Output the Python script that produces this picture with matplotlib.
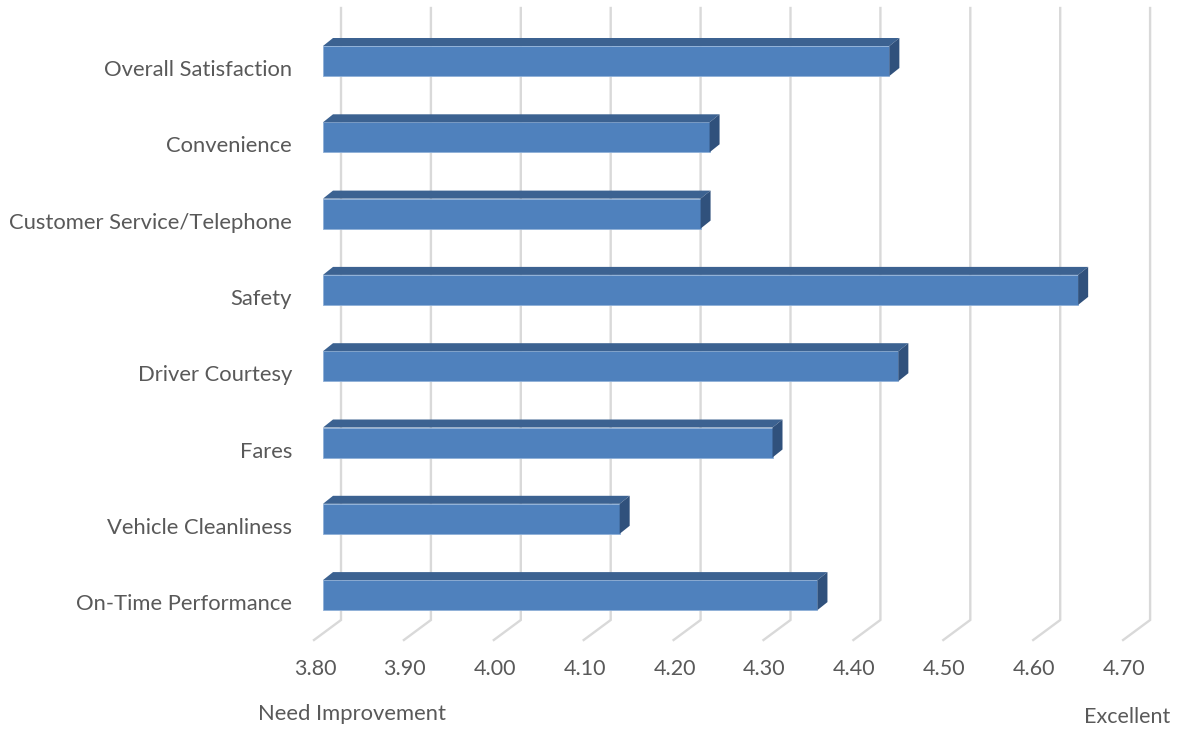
import matplotlib
matplotlib.use("Agg")
import matplotlib.pyplot as plt
from matplotlib.patches import Polygon
import numpy as np

# data (top to bottom as drawn)
categories = ["Overall Satisfaction", "Convenience", "Customer Service/Telephone",
              "Safety", "Driver Courtesy", "Fares", "Vehicle Cleanliness",
              "On-Time Performance"]
scores = [4.43, 4.23, 4.22, 4.64, 4.44, 4.30, 4.13, 4.35]
ticks = [3.80, 3.90, 4.00, 4.10, 4.20, 4.30, 4.40, 4.50, 4.60, 4.70]
base = 3.80

W, H = 1180, 729
fig = plt.figure(figsize=(W / 100, H / 100), dpi=100)
ax = fig.add_axes([0, 0, 1, 1])
ax.set_axis_off()

# pixel layout -> data units
px_per_unit = 899.0
x0_px = 323.0
row_px = 76.3
y0_px = 61.0
ax.set_xlim(base - x0_px / px_per_unit, base + (W - x0_px) / px_per_unit)
ax.set_ylim((H - y0_px) / row_px, -y0_px / row_px)

def px_x(p):
    return p / px_per_unit

def px_y(p):
    return p / row_px

text_col = "#595959"
grid_col = "#d9d9d9"
front = "#4f81bd"
top_c = "#3c6291"
side_c = "#30517c"
font = "Lato"

# back wall gridlines with floor segments
back_dx = px_x(18)
floor_back = px_y(620 - y0_px)
floor_front = px_y(640 - y0_px)
wall_top = px_y(8 - y0_px)
for t in ticks:
    xb = t + back_dx
    xf = xb - px_x(27)
    ax.plot([xb, xb, xf], [wall_top, floor_back, floor_front],
            color=grid_col, lw=1.7, solid_joinstyle="miter", zorder=1)
    ax.text(xf + px_x(1), px_y(669 - y0_px), f"{t:.2f}", ha="center", va="center",
            fontsize=15.5, color=text_col, family=font)

# bars
y = np.arange(len(categories))
h = px_y(30)
ddx, ddy = px_x(10), px_y(8)
ax.barh(y, np.array(scores) - base, left=base, height=h, color=front,
        edgecolor="#8fb0d8", linewidth=0.6, zorder=3)
for yi, v in zip(y, scores):
    yt, yb = yi - h / 2, yi + h / 2
    ax.add_patch(Polygon([(base, yt), (v, yt), (v + ddx, yt - ddy), (base + ddx, yt - ddy)],
                         closed=True, facecolor=top_c, edgecolor="none", zorder=3))
    ax.add_patch(Polygon([(v, yt), (v, yb), (v + ddx, yb - ddy), (v + ddx, yt - ddy)],
                         closed=True, facecolor=side_c, edgecolor="none", zorder=3))

for yi, name in zip(y, categories):
    ax.text(base - px_x(31), yi + px_y(9), name, ha="right", va="center",
            fontsize=15.8, color=text_col, family=font)

fig.text(352 / W, 1 - 714 / H, "Need Improvement", ha="center", va="center",
         fontsize=15.8, color=text_col, family=font)
fig.text(1127 / W, 1 - 717 / H, "Excellent", ha="center", va="center",
         fontsize=15.5, color=text_col, family=font)

fig.savefig("out.png", dpi=100, facecolor="white")
